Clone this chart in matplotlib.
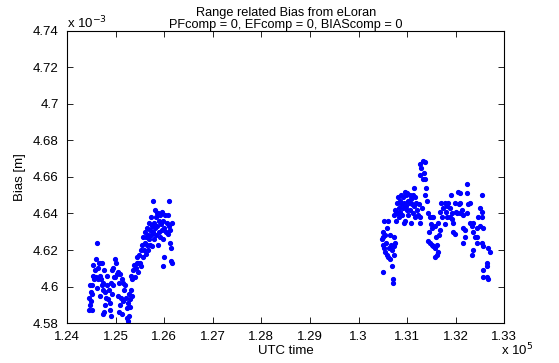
import matplotlib
matplotlib.use('Agg')
import matplotlib.pyplot as plt

plt.rcParams['font.family'] = ['Liberation Sans', 'DejaVu Sans']

# UTC time [s] and bias [x 1e-3 m], first pass (before the gap)
t_first = [124450, 124450, 124470, 124470, 124490, 124490, 124510, 124510, 124510, 124530,
           124530, 124560, 124580, 124600, 124600, 124620, 124620, 124640, 124640, 124660,
           124680, 124680, 124680, 124700, 124720, 124720, 124740, 124740, 124740, 124760,
           124760, 124780, 124780, 124800, 124820, 124820, 124840, 124860, 124890, 124890,
           124910, 124910, 124930, 124930, 124950, 124950, 124970, 124990, 124990, 125010,
           125030, 125050, 125050, 125070, 125070, 125090, 125090, 125110, 125130, 125130,
           125150, 125150, 125170, 125190, 125210, 125240, 125240, 125260, 125260, 125280,
           125280, 125300, 125300, 125320, 125320, 125340, 125340, 125360, 125380, 125400,
           125420, 125440, 125440, 125460, 125460, 125480, 125500, 125520, 125520, 125540,
           125560, 125560, 125580, 125610, 125610, 125630, 125630, 125650, 125650, 125670,
           125670, 125690, 125690, 125710, 125710, 125730, 125730, 125750, 125750, 125770,
           125770, 125790, 125790, 125810, 125810, 125830, 125830, 125850, 125850, 125870,
           125870, 125890, 125890, 125910, 125910, 125930, 125960, 125960, 125980, 125980,
           125980, 126000, 126000, 126020, 126040, 126060, 126080, 126080, 126100, 126100,
           126120, 126120, 126140, 126140, 126160, 126160]
bias_first = [4.594, 4.587, 4.601, 4.590, 4.597, 4.592, 4.601, 4.596, 4.587, 4.612,
              4.606, 4.604, 4.609, 4.615, 4.605, 4.624, 4.599, 4.604, 4.610, 4.613,
              4.613, 4.606, 4.595, 4.604, 4.613, 4.601, 4.602, 4.598, 4.585, 4.609,
              4.586, 4.597, 4.590, 4.594, 4.606, 4.601, 4.593, 4.598, 4.591, 4.587,
              4.602, 4.584, 4.609, 4.596, 4.601, 4.610, 4.605, 4.615, 4.605, 4.613,
              4.607, 4.608, 4.595, 4.602, 4.586, 4.607, 4.590, 4.594, 4.604, 4.585,
              4.602, 4.592, 4.598, 4.601, 4.594, 4.588, 4.583, 4.591, 4.581, 4.596,
              4.584, 4.593, 4.589, 4.598, 4.606, 4.595, 4.604, 4.609, 4.612, 4.605,
              4.610, 4.613, 4.616, 4.613, 4.608, 4.617, 4.613, 4.620, 4.611, 4.623,
              4.616, 4.627, 4.620, 4.624, 4.630, 4.627, 4.618, 4.632, 4.623, 4.628,
              4.620, 4.635, 4.626, 4.631, 4.623, 4.638, 4.628, 4.633, 4.622, 4.647,
              4.630, 4.626, 4.635, 4.642, 4.632, 4.628, 4.638, 4.640, 4.633, 4.640,
              4.623, 4.630, 4.636, 4.639, 4.627, 4.634, 4.641, 4.631, 4.626, 4.636,
              4.611, 4.616, 4.632, 4.639, 4.630, 4.635, 4.639, 4.629, 4.647, 4.633,
              4.624, 4.631, 4.621, 4.614, 4.613, 4.635]

# second pass (after the gap)
t_second = [130480, 130500, 130500, 130500, 130500, 130520, 130520, 130540, 130540, 130560,
            130580, 130580, 130600, 130600, 130630, 130650, 130650, 130670, 130690, 130690,
            130710, 130710, 130730, 130730, 130730, 130750, 130730, 130750, 130770, 130770,
            130790, 130790, 130810, 130830, 130830, 130850, 130850, 130870, 130870, 130890,
            130910, 130910, 130930, 130930, 130960, 130960, 130980, 130980, 131000, 131000,
            131020, 131020, 131040, 131060, 131060, 131080, 131080, 131100, 131120, 131120,
            131140, 131140, 131160, 131160, 131180, 131200, 131220, 131240, 131260, 131260,
            131260, 131260, 131280, 131300, 131330, 131330, 131350, 131370, 131370, 131390,
            131370, 131410, 131430, 131430, 131450, 131470, 131470, 131490, 131510, 131510,
            131510, 131530, 131530, 131570, 131570, 131570, 131590, 131610, 131610, 131630,
            131630, 131650, 131670, 131670, 131700, 131720, 131740, 131780, 131780, 131800,
            131820, 131820, 131840, 131880, 131880, 131900, 131920, 131920, 131940, 131940,
            131980, 131980, 132000, 132030, 132050, 132070, 132090, 132090, 132090, 132130,
            132150, 132150, 132150, 132190, 132190, 132230, 132230, 132230, 132250, 132290,
            132290, 132330, 132330, 132350, 132350, 132350, 132400, 132440, 132440, 132440,
            132460, 132500, 132500, 132540, 132540, 132540, 132540, 132560, 132560, 132560,
            132560, 132640, 132640, 132640, 132660, 132660, 132700]
bias_second = [4.626, 4.630, 4.627, 4.623, 4.608, 4.636, 4.621, 4.628, 4.619, 4.624,
               4.617, 4.632, 4.636, 4.616, 4.621, 4.615, 4.628, 4.623, 4.611, 4.620,
               4.604, 4.602, 4.627, 4.622, 4.617, 4.624, 4.639, 4.642, 4.636, 4.641,
               4.646, 4.640, 4.649, 4.643, 4.638, 4.647, 4.641, 4.650, 4.645, 4.639,
               4.649, 4.643, 4.646, 4.635, 4.652, 4.636, 4.644, 4.650, 4.642, 4.651,
               4.647, 4.639, 4.646, 4.642, 4.650, 4.648, 4.635, 4.645, 4.640, 4.650,
               4.654, 4.644, 4.649, 4.638, 4.646, 4.642, 4.639, 4.645, 4.667, 4.661,
               4.638, 4.635, 4.665, 4.643, 4.669, 4.659, 4.662, 4.668, 4.659, 4.654,
               4.650, 4.647, 4.640, 4.625, 4.630, 4.638, 4.624, 4.634, 4.638, 4.632,
               4.623, 4.638, 4.622, 4.633, 4.621, 4.616, 4.627, 4.623, 4.617, 4.635,
               4.619, 4.628, 4.631, 4.641, 4.646, 4.638, 4.643, 4.646, 4.634, 4.641,
               4.644, 4.638, 4.646, 4.643, 4.638, 4.650, 4.637, 4.640, 4.635, 4.630,
               4.646, 4.629, 4.641, 4.640, 4.652, 4.645, 4.651, 4.646, 4.640, 4.642,
               4.639, 4.632, 4.624, 4.631, 4.627, 4.656, 4.651, 4.640, 4.645, 4.646,
               4.635, 4.633, 4.617, 4.635, 4.630, 4.620, 4.627, 4.632, 4.627, 4.624,
               4.638, 4.643, 4.633, 4.650, 4.641, 4.638, 4.624, 4.632, 4.622, 4.609,
               4.605, 4.613, 4.611, 4.605, 4.621, 4.604, 4.619]

x_ticks = [124000, 125000, 126000, 127000, 128000, 129000, 130000, 131000, 132000, 133000]
x_labels = ['1.24', '1.25', '1.26', '1.27', '1.28', '1.29', '1.3', '1.31', '1.32', '1.33']
y_ticks = [4.58, 4.60, 4.62, 4.64, 4.66, 4.68, 4.70, 4.72, 4.74]
y_labels = ['4.58', '4.6', '4.62', '4.64', '4.66', '4.68', '4.7', '4.72', '4.74']

fig = plt.figure(figsize=(5.59, 3.63), dpi=100)
ax = fig.add_axes([0.12, 0.11, 0.782, 0.805])

ax.plot(t_first, bias_first, '.', color='blue', markersize=5.5)
ax.plot(t_second, bias_second, '.', color='blue', markersize=5.5)

ax.set_xlim(124000, 133000)
ax.set_ylim(4.58, 4.74)
ax.set_xticks(x_ticks)
ax.set_xticklabels(x_labels)
ax.set_yticks(y_ticks)
ax.set_yticklabels(y_labels)
ax.tick_params(direction='in', top=True, right=True, labelsize=9.5, length=4, width=0.6)
ax.tick_params(axis='x', pad=6)
ax.tick_params(axis='y', pad=6)
for s in ax.spines.values():
    s.set_linewidth(0.8)

ax.set_xlabel('UTC time', fontsize=9.5, labelpad=1)
ax.set_ylabel('Bias [m]', fontsize=9.5, labelpad=5)
ax.set_title('Range related Bias from eLoran\nPFcomp = 0, EFcomp = 0, BIAScomp = 0',
             fontsize=9.2, linespacing=1.05, pad=2)

# MATLAB style exponent labels
ax.text(0.0, 1.0, r'x 10$^{-3}$', transform=ax.transAxes, fontsize=9.5, ha='left', va='bottom')
fig.text(0.897, 0.012, r'x 10$^{5}$', fontsize=9.5, ha='left', va='bottom')

fig.savefig('out.png', dpi=100)
